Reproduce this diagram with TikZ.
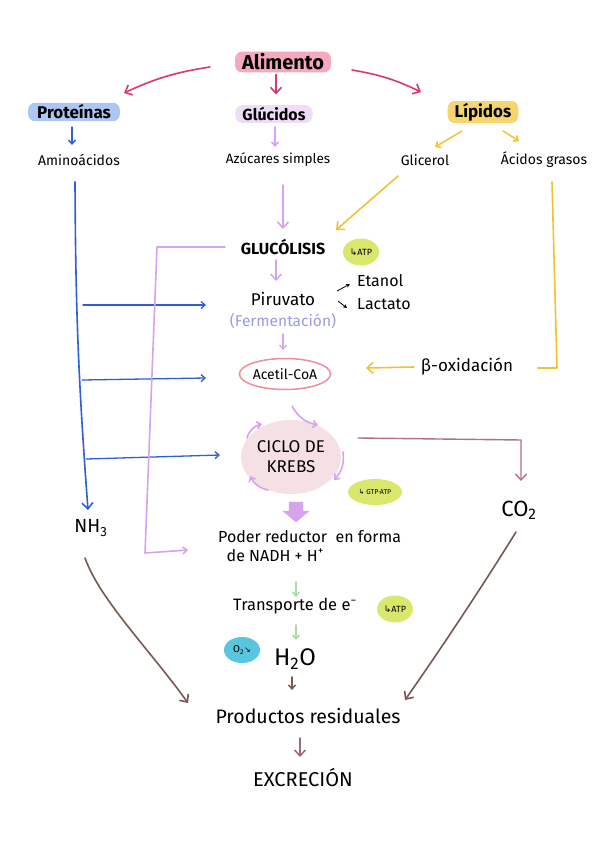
\documentclass[tikz,border=0pt]{standalone}
\usepackage{fontspec}
\setmainfont{Fira Sans}
\newfontfamily\symf{DejaVu Sans}
\usetikzlibrary{arrows.meta,shapes.geometric}
\definecolor{cpink}{HTML}{D93A6B}
\definecolor{hpink}{HTML}{F4A9BC}
\definecolor{hblue}{HTML}{AEC6F4}
\definecolor{hlav}{HTML}{EEDDF6}
\definecolor{hyel}{HTML}{F6D46E}
\definecolor{cblue}{HTML}{2E5FD6}
\definecolor{clav}{HTML}{D7A3EC}
\definecolor{cyel}{HTML}{F2C230}
\definecolor{cferm}{HTML}{9C9CE0}
\definecolor{catp}{HTML}{D9E86C}
\definecolor{ckrebs}{HTML}{F5E1E4}
\definecolor{cacet}{HTML}{EE8E9C}
\definecolor{cmauve}{HTML}{B26F8C}
\definecolor{cgreen}{HTML}{A9DCAA}
\definecolor{ccyan}{HTML}{58C6DE}
\definecolor{cbrown}{HTML}{765A52}
\tikzset{
  lbl/.style={inner sep=0pt, text=black},
  hl/.style={rounded corners=7pt, inner xsep=7pt, inner ysep=2pt, font=\fontsize{17}{18}\selectfont\bfseries},
  arr/.style={-{Straight Barb[length=6pt,width=11pt]}, line width=1.6pt, line cap=round},
  thin arr/.style={-{Straight Barb[length=4pt,width=7pt]}, line width=1.1pt, line cap=round},
  atp/.style={ellipse, fill=catp, inner sep=0pt, minimum width=36pt, minimum height=27pt, font=\fontsize{9}{10}\selectfont},
}
\begin{document}
\begin{tikzpicture}[x=1pt,y=-1pt]
\useasboundingbox[fill=white] (0,0) rectangle (600,848);
% top level
\node[hl, fill=hpink, font=\fontsize{20}{22}\selectfont\bfseries, inner ysep=2pt] (alim) at (283,62) {Alimento};
\node[hl, fill=hblue, inner xsep=9pt] (prot) at (74,112) {Proteínas};
\node[hl, fill=hlav, font=\fontsize{16}{17}\selectfont\bfseries] (gluc) at (274,114) {Glúcidos};
\node[hl, fill=hyel] (lip) at (483,112) {Lípidos};
\coordinate (a1s) at (210,67); \coordinate (a1e) at (124,93);
\coordinate (a3s) at (352,70); \coordinate (a3e) at (421,92);
\draw[arr, cpink] (a1s) to[bend right=8] (a1e);
\draw[arr, cpink] (alim.south) ++(-7,2) -- ++(0,20);
\draw[arr, cpink] (a3s) to[bend left=8] (a3e);
% second level
\node[lbl, font=\fontsize{14}{15}\selectfont] (amino) at (79,160) {Aminoácidos};
\node[lbl, font=\fontsize{13.5}{15}\selectfont] (azuc) at (278,160) {Azúcares simples};
\node[lbl, font=\fontsize{14}{15}\selectfont] (glic) at (425,160) {Glicerol};
\node[lbl, font=\fontsize{14}{15}\selectfont] (acid) at (544,160) {Ácidos grasos};
\draw[thin arr, cblue, line width=1.4pt] (72,127) -- (72,145);
\draw[thin arr, clav, line width=1.6pt] (275,127) -- (275,147);
\draw[thin arr, cyel, line width=1.5pt] (462,131) -- (435,147);
\draw[thin arr, cyel, line width=1.5pt] (503,131) -- (519,141);
% glycolysis
\node[lbl, font=\fontsize{16}{17}\selectfont\bfseries] (glyc) at (283,247) {GLUCÓLISIS};
\node[atp] (atp1) at (361,252) {{\symf ↳}ATP};
\draw[arr, clav] (283,185) -- (283,229);
\draw[arr, cyel] (398,176) -- (336,230);
% piruvato
\node[lbl, font=\fontsize{17}{18}\selectfont] (piru) at (283,299) {Piruvato};
\node[lbl, font=\fontsize{15.5}{17}\selectfont, text=cferm] (ferm) at (283,321) {(Fermentación)};
\node[lbl, font=\fontsize{16}{17}\selectfont, anchor=west] (etan) at (357,281) {Etanol};
\node[lbl, font=\fontsize{16}{17}\selectfont, anchor=west] (lact) at (357,304) {Lactato};
\draw[arr, clav, line width=1.4pt] (276,260) -- (276,281);
\draw[-{Stealth[length=4pt,width=4pt]}, line width=0.8pt] (337,291) -- (350,284);
\draw[-{Stealth[length=4pt,width=4pt]}, line width=0.8pt] (338,301) -- (347,308);
% acetil-CoA
\node[ellipse, draw=cacet, line width=1.5pt, minimum width=90pt, minimum height=31pt, font=\fontsize{14}{15}\selectfont, inner sep=0pt] (acet) at (285,374) {Acetil-CoA};
\draw[thin arr, clav, line width=1.3pt] (283,334) -- (283,350);
\node[lbl, font=\fontsize{17}{18}\selectfont] (beta) at (467,367) {β-oxidación};
\coordinate (fa1) at (552,182); \coordinate (fa2) at (557,368); \coordinate (fa3) at (538,368);
\draw[cyel, line width=1.6pt, line cap=round, line join=round] (fa1) -- (fa2) -- (fa3);
\draw[arr, cyel] (beta.west) ++(-7,0) -- (366,368);
% Krebs
\node[ellipse, fill=ckrebs, minimum width=100pt, minimum height=74pt, align=center, font=\fontsize{17}{20}\selectfont, inner sep=0pt] (krebs) at (291,457) {CICLO DE\\KREBS};
\draw[thin arr, clav, line width=1.6pt] (292,406) to[bend right=25] (318,425);
\draw[thin arr, clav, line width=1.6pt] (247,438) to[bend left=30] (262,424);
\draw[thin arr, clav, line width=1.6pt] (343,452) to[bend left=25] (334,480);
\draw[thin arr, clav, line width=1.6pt] (268,490) to[bend left=25] (250,476);
\node[atp, minimum width=54pt, minimum height=26pt, font=\fontsize{7}{8}\selectfont] (atp2) at (375,492) {{\symf ↳} GTP·ATP};
\node[lbl, font=\fontsize{22}{23}\selectfont] (co2) at (519,510) {CO\textsubscript{2}};
\coordinate (k1) at (358,438); \coordinate (k2) at (521,440); \coordinate (k3) at (521,481);
\draw[arr, cmauve, line width=1.4pt, line join=round] (k1) -- (k2) -- (k3);
% amino acid path
\node[lbl, font=\fontsize{19}{20}\selectfont] (nh3) at (91,528) {NH\textsubscript{3}};
\draw[arr, cblue] (75,182) to[bend right=2] (88,510);
\draw[thin arr, cblue, line width=1.3pt] (83,305) -- (206,305);
\draw[thin arr, cblue, line width=1.3pt] (82,380) -- (206,378);
\draw[thin arr, cblue, line width=1.3pt] (86,459) -- (220,455);
% lavender bracket
\node[lbl, font=\fontsize{16}{19}\selectfont, align=left, anchor=north west] (poder) at (218,530) {Poder reductor\ \ en forma\\\ \ de NADH + H\textsuperscript{+}};
\coordinate (b1) at (225,247); \coordinate (b2) at (157,247); \coordinate (b3) at (145,553);
\draw[thin arr, clav, line width=1.6pt, line join=round] (b1) -- (b2) -- (b3) -- (188,550);
\draw[clav, fill=clav] (289,502) -- (303,502) -- (303,511) -- (309,511) -- (296,522) -- (283,511) -- (289,511) -- cycle;
% electron transport
\node[lbl, font=\fontsize{16.5}{18}\selectfont] (trans) at (295,606) {Transporte de e\textsuperscript{−}};
\node[atp] (atp3) at (395,609) {{\symf ↳}ATP};
\draw[thin arr, cgreen, line width=1.6pt] (296,582) -- (296,597);
\draw[thin arr, cgreen, line width=1.6pt] (296,625) -- (296,640);
\node[ellipse, fill=ccyan, minimum width=36pt, minimum height=26pt, inner sep=0pt, font=\fontsize{10}{11}\selectfont] (o2) at (242,650) {O\textsubscript{2}{\symf\footnotesize ↘}};
\node[lbl, font=\fontsize{24}{25}\selectfont] (h2o) at (295,659) {H\textsubscript{2}O};
\draw[thin arr, cbrown, line width=1.5pt] (292,677) -- (292,690);
% residues
\node[lbl, font=\fontsize{19.5}{21}\selectfont] (prod) at (308,716) {Productos residuales};
\node[lbl, font=\fontsize{20}{21}\selectfont] (excr) at (303,777) {EXCRECIÓN};
\coordinate (n1) at (85,558); \coordinate (c1) at (516,532);
\draw[arr, cbrown] (n1) .. controls (100,600) and (150,650) .. (188,703);
\draw[arr, cbrown] (c1) .. controls (480,590) and (440,650) .. (405,700);
\draw[arr, cmauve!70!cbrown, line width=1.5pt] (300,738) -- (300,757);
\end{tikzpicture}
\end{document}
